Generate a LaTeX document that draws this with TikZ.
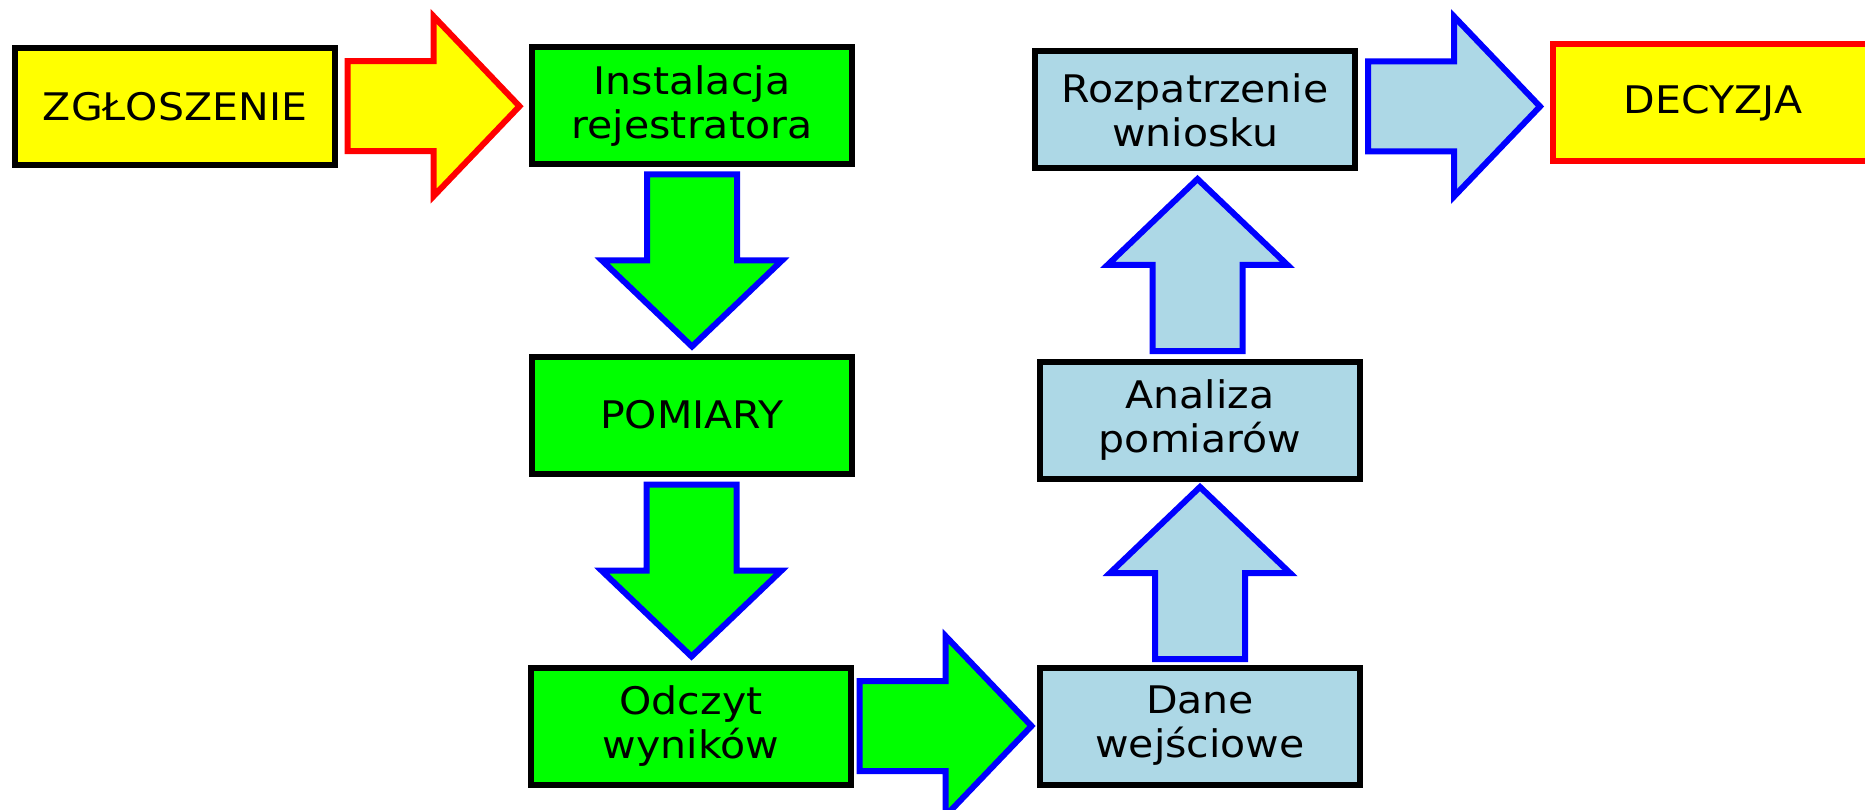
\documentclass[tikz,border=0pt]{standalone}
\usepackage{fontspec}
\setmainfont{DejaVu Sans}[FakeStretch=1.08]
\usetikzlibrary{calc}
\definecolor{lblue}{HTML}{ADD8E6}
\definecolor{pgreen}{RGB}{0,255,0}
\definecolor{pyellow}{RGB}{255,255,0}
\definecolor{pred}{RGB}{255,0,0}
\definecolor{pblue}{RGB}{0,0,255}
\begin{document}
\begin{tikzpicture}[x=1pt,y=-1pt,
  box/.style={draw=black, line width=6pt, minimum width=320pt, minimum height=117pt,
    inner sep=0pt, align=center, font=\fontsize{38}{44}\selectfont, text=black},
  ybox/.style={box, fill=pyellow},
  gbox/.style={box, fill=pgreen},
  bbox/.style={box, fill=lblue},
  barrow/.pic={\draw[pic actions, line width=6pt, line join=miter]
    (-86,-45) -- (0,-45) -- (0,-90) -- (86,0) -- (0,90) -- (0,45) -- (-86,45) -- cycle;},
]
\useasboundingbox (0,0) rectangle (1865,810);

\node[ybox] (zg) at (175,106.5) {ZGŁOSZENIE};
\node[gbox] (inst) at (692,106) {Instalacja\\rejestratora};
\node[gbox] (pom) at (692,415) {POMIARY};
\node[gbox] (odc) at (691,726) {Odczyt\\wyników};
\node[bbox] (dane) at (1200,726) {Dane\\wejściowe};
\node[bbox] (ana) at (1200,420) {Analiza\\pomiarów};
\node[bbox] (roz) at (1195,110) {Rozpatrzenie\\wniosku};
\node[box, draw=pred, fill=pyellow] (dec) at (1713,103) {DECYZJA};

\coordinate (c1) at ($(zg.east)!0.5!(inst.west)$);
\coordinate (c2) at ($(inst.south)!0.5!(pom.north)$);
\coordinate (c3) at ($(pom.south)!0.5!(odc.north)$);
\coordinate (c4) at ($(odc.east)!0.5!(dane.west)$);
\coordinate (c5) at ($(dane.north)!0.5!(ana.south)$);
\coordinate (c6) at ($(ana.north)!0.5!(roz.south)$);
\coordinate (c7) at ($(roz.east)!0.5!(dec.west)$);

\pic[draw=pred, fill=pyellow] at (c1) {barrow};
\pic[draw=pblue, fill=pgreen, rotate=-90] at (c2) {barrow};
\pic[draw=pblue, fill=pgreen, rotate=-90] at (c3) {barrow};
\pic[draw=pblue, fill=pgreen] at (c4) {barrow};
\pic[draw=pblue, fill=lblue, rotate=90] at (c5) {barrow};
\pic[draw=pblue, fill=lblue, rotate=90] at (c6) {barrow};
\pic[draw=pblue, fill=lblue] at (c7) {barrow};
\end{tikzpicture}
\end{document}
